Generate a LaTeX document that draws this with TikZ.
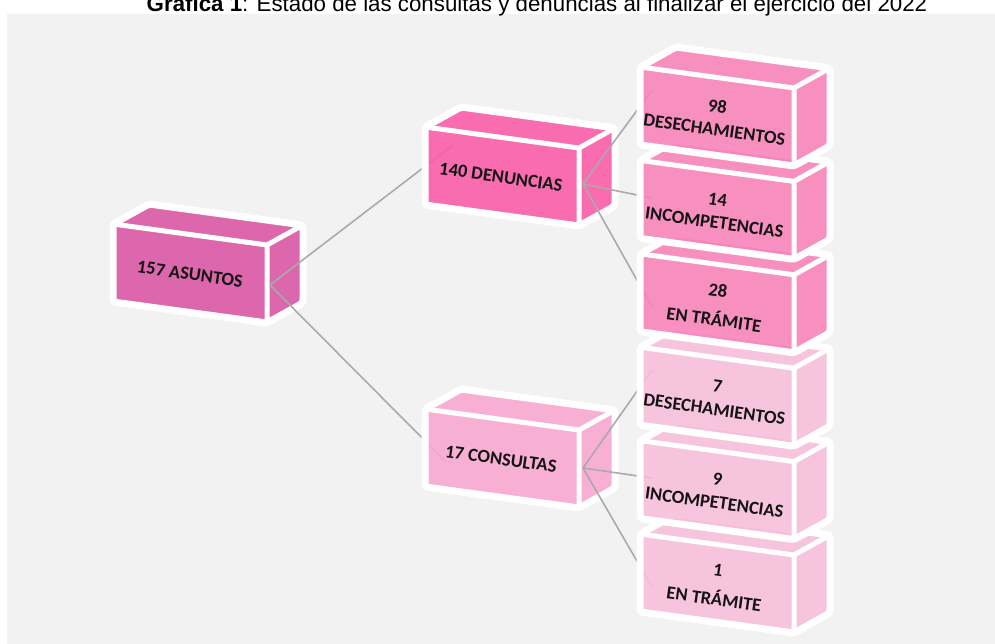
\documentclass[tikz,border=0pt]{standalone}
\usepackage{fontspec}
\setmainfont{Liberation Sans}
\newfontfamily\calib{Carlito}
\usetikzlibrary{calc}
\definecolor{panel}{RGB}{242,242,242}
\definecolor{cAsu}{RGB}{219,84,163}
\definecolor{cDen}{RGB}{251,90,168}
\definecolor{cDenK}{RGB}{248,130,185}
\definecolor{cCon}{RGB}{248,167,208}
\definecolor{cConK}{RGB}{248,190,219}
\definecolor{conn}{RGB}{170,170,170}
\tikzset{
  outl/.style={draw=white, line width=7pt, line join=round, rounded corners=3pt},
  inl/.style={draw=white, line width=5pt, line cap=round, line join=round},
  face/.style={fill opacity=0.88},
  lbl/.style={font=\calib\bfseries\fontsize{18.5}{23}\selectfont, text=black!92, align=center, rotate=-8, inner sep=0pt},
  link/.style={draw=conn, line width=1.6pt},
}
\newcommand\cuboid[3]{%
  \begin{scope}[shift={(#1,#2)}]
    \path[face, fill=#3] (0,0) -- (154,21) -- (154,99) -- (0,78) -- cycle;
    \path[face, fill=#3] (0,0) -- (36,-20) -- (190,1) -- (154,21) -- cycle;
    \path[face, fill=#3] (154,21) -- (190,1) -- (190,79) -- (154,99) -- cycle;
    \draw[outl] (0,78) -- (0,0) -- (36,-20) -- (190,1) -- (190,79) -- (154,99) -- cycle;
    \draw[inl] (0,0) -- (154,21) -- (154,99) (154,21) -- (190,1);
  \end{scope}}
\begin{document}
\begin{tikzpicture}[x=1pt, y=-1pt]
\useasboundingbox (0,0) rectangle (995,644);
\fill[panel] (7,14) rectangle (995,644);
\node[anchor=base, font=\fontsize{22.3}{26}\selectfont] (title) at (537,12)
  {\textbf{Gráfica 1}: Estado de las consultas y denuncias al finalizar el ejercicio del 2022};

% connector end points
\coordinate (asu-out) at (270,285);
\coordinate (den-out) at (583,184);
\coordinate (con-out) at (583,468);
\coordinate (den-in) at (453,145);
\coordinate (con-in) at (446,462);
\coordinate (d1-in) at (652,90);
\coordinate (d2-in) at (652,198);
\coordinate (d3-in) at (652,307);
\coordinate (c1-in) at (652,370);
\coordinate (c2-in) at (652,478);
\coordinate (c3-in) at (652,587);

% level 1
\cuboid{113}{224}{cAsu}
\node[lbl] (asu) at (190,274) {157 ASUNTOS};
\draw[link] (asu-out) -- (den-in);
\draw[link] (asu-out) -- (con-in);

% level 2
\cuboid{425}{127}{cDen}
\node[lbl] (den) at (501,177) {140 DENUNCIAS};
\cuboid{425}{409}{cCon}
\node[lbl] (con) at (501,459) {17 CONSULTAS};
\draw[link] (den-out) -- (d1-in);
\draw[link] (den-out) -- (d2-in);
\draw[link] (den-out) -- (d3-in);
\draw[link] (con-out) -- (c1-in);
\draw[link] (con-out) -- (c2-in);
\draw[link] (con-out) -- (c3-in);

% level 3 (drawn bottom-up)
\cuboid{640}{534}{cConK}
\node[lbl] (c3) at (716,585) {1\\[6pt]EN TRÁMITE};
\cuboid{640}{440.6}{cConK}
\node[lbl] (c2) at (716,491) {9\\INCOMPETENCIAS};
\cuboid{640}{347.2}{cConK}
\node[lbl] (c1) at (716,398) {7\\DESECHAMIENTOS};
\cuboid{640}{253.8}{cDenK}
\node[lbl] (d3) at (716,305) {28\\[6pt]EN TRÁMITE};
\cuboid{640}{160.4}{cDenK}
\node[lbl] (d2) at (716,211) {14\\INCOMPETENCIAS};
\cuboid{640}{67}{cDenK}
\node[lbl] (d1) at (716,118) {98\\DESECHAMIENTOS};
\end{tikzpicture}
\end{document}
